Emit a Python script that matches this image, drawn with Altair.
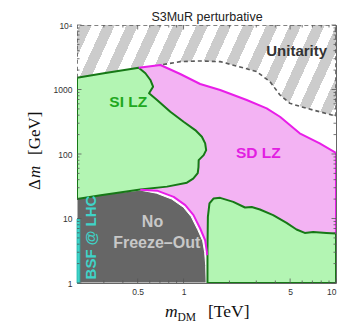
import altair as alt
import pandas as pd

# ---------------- axes ----------------
X_DOMAIN = [0.2, 10]          # m_DM [TeV]
Y_DOMAIN = [1, 10000]         # Delta m [GeV]
x_major = [0.5, 1, 5, 10]
x_minor = [0.3, 0.4, 0.6, 0.7, 0.8, 0.9, 2, 3, 4, 6, 7, 8, 9]
y_major = [1, 10, 100, 1000, 10000]
y_minor = [2, 3, 4, 5, 6, 7, 8, 9, 20, 30, 40, 50, 60, 70, 80, 90,
           200, 300, 400, 500, 600, 700, 800, 900,
           2000, 3000, 4000, 5000, 6000, 7000, 8000, 9000]

# ---------------- regions ----------------
# unitarity boundary (dashed)
unit_x = [0.705, 0.951, 1.285, 1.738, 2.5, 3.02, 3.69, 4.29, 4.98, 6.41, 7.82, 10]
unit_y = [2400, 2704, 2772, 2704, 2150, 1890, 1322, 822, 611, 511, 452, 388]

# SI LZ upper-left region
si_x = [0.2, 0.2, 0.3, 0.508, 0.562, 0.606, 0.631, 0.594, 0.670, 0.819, 1.0, 1.193,
        1.319, 1.386, 1.407, 1.355, 1.257, 1.253, 1.239, 1.157, 1.052, 0.779, 0.521,
        0.286, 0.2]
si_y = [20, 1525, 1785, 2180, 1785, 1405, 1105, 873, 687, 452, 316, 235,
        185, 146, 115, 96.1, 80.4, 62.6, 50.5, 41.5, 35.9, 31.2, 28.2,
        23.0, 20]

# SI LZ lower-right region
si2_x = [1.435, 1.435, 1.444, 1.479, 1.571, 1.738, 2.12, 2.53, 2.80, 3.17, 3.87, 4.74,
         5.51, 6.24, 7.08, 8.66, 10, 10, 1.435]
si2_y = [1, 3.22, 10.6, 17.1, 20.4, 20.9, 18.1, 14.8, 15.1, 13.8, 11.3, 8.55,
         6.75, 5.98, 6.19, 5.98, 5.85, 1, 1]

# SD LZ region (pink)
sd_top_x = [0.508, 0.705, 0.951, 1.285, 1.738, 2.596, 3.51, 4.29, 4.98, 5.78, 7.82, 10, 10]
sd_top_y = [2180, 2400, 1740, 1217, 982, 687, 511, 378, 281, 209, 146, 104, 5.85]
sd_low_x = [0.52, 0.670, 0.861, 1.026, 1.162, 1.285, 1.386, 1.422, 1.424]
sd_low_y = [28, 27.0, 21.6, 16.1, 11.3, 7.0, 4.6, 3.03, 2.69]

# No freeze-out region (dark gray)
nf_x = [0.2, 0.2, 0.3, 0.521, 0.664, 0.837, 0.997, 1.122, 1.239, 1.335, 1.375, 1.397, 1.407, 0.2]
nf_y = [1, 21, 24, 27.5, 24.7, 20.0, 15.0, 10.7, 6.70, 4.52, 3.0, 1.88, 1, 1]

# BSF @ LHC strip
bsf_x = [0.2, 0.209]
bsf_y = [1, 9.8]

# ---------------- style ----------------
W, H = 259, 258
GREEN_FILL = "#b3f5b3"
GREEN_LINE = "#167816"
PINK_FILL = "#f3b3f3"
MAGENTA = "#e81ee8"
GRAY = "#666666"
CYAN = "#3fd3c8"
HATCH = "#cccccc"
FONT = "Liberation Sans"
SERIF = "Liberation Serif"

xs = alt.Scale(type="log", domain=X_DOMAIN, nice=False)
ys = alt.Scale(type="log", domain=Y_DOMAIN, nice=False)

x_axis = alt.Axis(values=x_major, format="~g", ticks=False, domain=False, grid=False,
                  title=None, labelFont=FONT, labelFontSize=8.5, labelColor="#333",
                  labelPadding=4, labelFlush=True)
y_axis = alt.Axis(values=y_major, ticks=False, domain=False, grid=False, title=None,
                  labelFont=FONT, labelFontSize=8.5, labelColor="#333", labelPadding=5,
                  labelFlush=False,
                  labelExpr="datum.value == 10000 ? '10\u2074' : format(datum.value, 'd')")


def X(f):
    return alt.X(f, scale=xs, axis=x_axis, title=None)


def Y(f):
    return alt.Y(f, scale=ys, axis=y_axis, title=None)


def poly(xv, yv, fill=None, stroke=None, sw=0, dash=None):
    df = pd.DataFrame({"x": xv, "y": yv, "o": list(range(len(xv)))})
    kw = {}
    if fill is not None:
        kw["fill"] = fill
    if stroke is not None:
        kw["stroke"] = stroke
        kw["strokeWidth"] = sw
    else:
        kw["strokeWidth"] = 0
        kw["stroke"] = fill
    if dash is not None:
        kw["strokeDash"] = dash
    return alt.Chart(df).mark_line(clip=True, strokeJoin="round", **kw).encode(
        x=X("x:Q"), y=Y("y:Q"), order="o:Q",
    )


# hatch (stripes) as gradient
STRIPE_PERIOD = 0.0746
STRIPE_PHASE = 0.0096
stops = [alt.GradientStop(color="white", offset=0)]
i = 0
while True:
    a = STRIPE_PHASE + i * STRIPE_PERIOD
    b = a + STRIPE_PERIOD / 2
    if a >= 1:
        break
    stops.append(alt.GradientStop(color="white", offset=a))
    stops.append(alt.GradientStop(color=HATCH, offset=a))
    stops.append(alt.GradientStop(color=HATCH, offset=min(b, 1)))
    if b < 1:
        stops.append(alt.GradientStop(color="white", offset=b))
    i += 1
grad = alt.LinearGradient(gradient="linear", stops=stops, x1=0, y1=0, x2=1, y2=0.4545)

bg_df = pd.DataFrame({"x": [X_DOMAIN[0]], "x2": [X_DOMAIN[1]], "y": [Y_DOMAIN[0]], "y2": [Y_DOMAIN[1]]})
hatch = alt.Chart(bg_df).mark_rect(fill=grad).encode(
    x=X("x:Q"), x2="x2:Q", y=Y("y:Q"), y2="y2:Q",
)

white_bg = poly([0.2, 0.2, 0.3, 0.508] + unit_x + [10, 10, 0.2],
                [1, 1525, 1785, 2180] + unit_y + [1, 1, 1], fill="white")

sd_poly = poly(sd_top_x[:-1] + [10, 1.5] + sd_low_x[::-1] + [0.45, 0.45, 0.508],
               sd_top_y[:-1] + [5, 5] + sd_low_y[::-1] + [40, 1500, 2180], fill=PINK_FILL)

nf_poly = poly(nf_x, nf_y, fill=GRAY, stroke="white", sw=1)
si_poly = poly(si_x, si_y, fill=GREEN_FILL, stroke=GREEN_LINE, sw=2)
si2_poly = poly(si2_x, si2_y, fill=GREEN_FILL, stroke=GREEN_LINE, sw=2)

sd_top_line = poly(sd_top_x, sd_top_y, stroke=MAGENTA, sw=2, fill="transparent")
sd_low_line = poly(sd_low_x, sd_low_y, stroke=MAGENTA, sw=2, fill="transparent")

unit_line = poly([0.2, 0.2, 10, 10] + unit_x[::-1], [1525, 10000, 10000, 388] + unit_y[::-1],
                 stroke="#5a5a5a", sw=1.6, dash=[4, 3], fill="transparent")

bsf_df = pd.DataFrame({"x": [bsf_x[0]], "x2": [bsf_x[1]], "y": [bsf_y[0]], "y2": [bsf_y[1]]})
bsf = alt.Chart(bsf_df).mark_rect(fill=CYAN, stroke="#22b8ad", strokeWidth=0.8).encode(
    x=X("x:Q"), x2="x2:Q", y=Y("y:Q"), y2="y2:Q")


def yticks(vals, L):
    df = pd.DataFrame({"v": vals})
    base = alt.Chart(df).mark_rule(color="#555", strokeWidth=0.8)
    left = base.encode(y=Y("v:Q"), x=alt.value(0), x2=alt.value(L))
    right = base.encode(y=Y("v:Q"), x=alt.value(W - L), x2=alt.value(W))
    return [left, right]


def xticks(vals, L):
    df = pd.DataFrame({"v": vals})
    base = alt.Chart(df).mark_rule(color="#555", strokeWidth=0.8)
    bottom = base.encode(x=X("v:Q"), y=alt.value(H - L), y2=alt.value(H))
    top = base.encode(x=X("v:Q"), y=alt.value(0), y2=alt.value(L))
    return [bottom, top]


ticks = yticks(y_major, 4.5) + yticks(y_minor, 2.5) + xticks(x_major, 4.5) + xticks(x_minor, 2.5)

one = pd.DataFrame({"a": [0]})


def label(txt, x, y, size=15.5, color="#333", bold=True, angle=0, font=FONT, italic=False,
          align="center", baseline="middle"):
    kw = dict(text=txt, fontSize=size, color=color, font=font, align=align, baseline=baseline)
    if bold:
        kw["fontWeight"] = "bold"
    if italic:
        kw["fontStyle"] = "italic"
    if angle:
        kw["angle"] = angle
    return alt.Chart(one).mark_text(**kw).encode(x=alt.value(x), y=alt.value(y))


texts = [
    label("Unitarity", 219.7, 25.7, color="#333333", size=15),
    label("SI LZ", 51.3, 76.7, color="#1fa81f"),
    label("SD LZ", 181.3, 128.3, color="#e21ee2"),
    label("No", 75.5, 196.5, color="#c8c8c8", size=16),
    label("Freeze\u2013Out", 79.7, 217.5, color="#c8c8c8", size=16),
    label("BSF @ LHC", 13.7, 212.5, color=CYAN, size=15, angle=270),
    label("S3MuR perturbative", 130, -4, size=12.5, color="#222", bold=False,
          baseline="alphabetic"),
    # x title
    label("m", 88, 292, size=17.5, color="#111", bold=False, font=SERIF, italic=True,
          align="left", baseline="alphabetic"),
    label("DM", 100.5, 295.5, size=11.5, color="#111", bold=False, font=SERIF,
          align="left", baseline="alphabetic"),
    label("[TeV]", 131, 292, size=17.5, color="#111", bold=False, font=SERIF,
          align="left", baseline="alphabetic"),
    # y title
    label("\u0394", -37, 165, size=17, color="#111", bold=False, font=SERIF, angle=270,
          align="left", baseline="alphabetic"),
    label("m", -37, 153, size=17, color="#111", bold=False, font=SERIF, italic=True, angle=270,
          align="left", baseline="alphabetic"),
    label("[GeV]", -37, 130, size=17, color="#111", bold=False, font=SERIF, angle=270,
          align="left", baseline="alphabetic"),
]

chart = alt.layer(
    hatch, white_bg, sd_poly, nf_poly, si_poly, si2_poly, sd_top_line, sd_low_line,
    unit_line, bsf, *ticks, *texts
).properties(
    width=W, height=H,
    autosize=alt.AutoSizeParams(type="none"),
    padding={"left": 69, "top": 17, "right": 3, "bottom": 40},
).configure_view(stroke="#666", strokeWidth=1)

chart.save("out.html", embed_options={"renderer": "svg", "actions": False})
